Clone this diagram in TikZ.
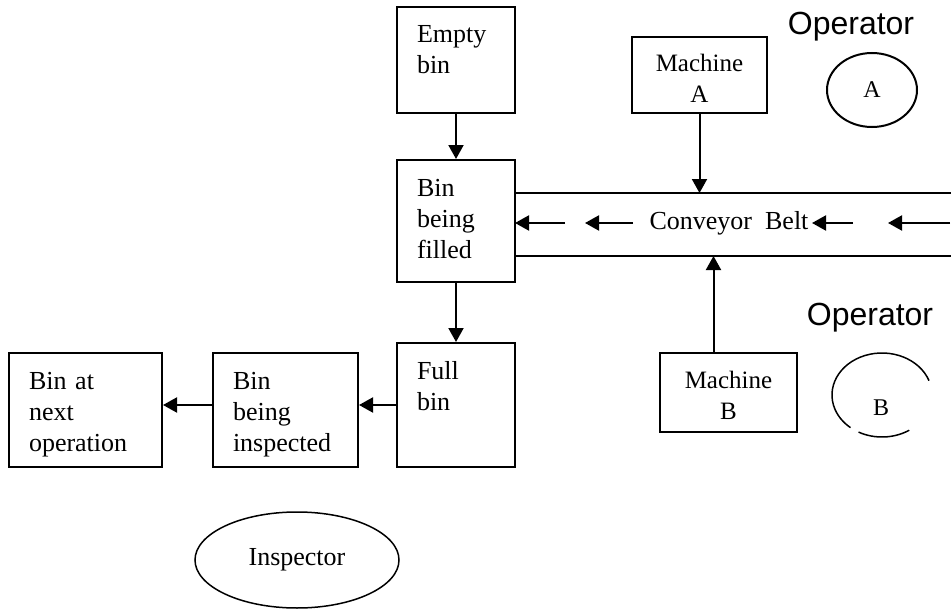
\documentclass[tikz,border=0pt]{standalone}
\usepackage{fontspec}
\setmainfont{Liberation Serif}
\newfontfamily\opfont{Liberation Sans}
\usetikzlibrary{arrows.meta,shapes.geometric}

\tikzset{
  >={Triangle[length=14pt,width=15pt]},
  binbox/.style={draw, rectangle, align=left, inner xsep=20pt, inner ysep=0pt,
    text height=36pt, font=\fontsize{26}{31}\selectfont},
  machbox/.style={draw, rectangle, align=center, inner xsep=10pt, inner ysep=0pt,
    text height=35pt, font=\fontsize{25}{31}\selectfont},
  oplabel/.style={font=\opfont\fontsize{32}{38}\selectfont},
  opcircle/.style={draw, ellipse, inner sep=0pt, font=\fontsize{24}{28}\selectfont},
}

\begin{document}
\begin{tikzpicture}[x=1pt, y=1pt, line width=2pt]
  \useasboundingbox (0,0) rectangle (951,-610);
  % bins
  \node[binbox, text width=78pt, text depth=70pt] (empty) at (456,-60) {Empty\\bin};
  \node[binbox, text width=78pt, text depth=86pt] (filled) at (456,-221) {Bin\\being\\filled};
  \node[binbox, text width=78pt, text depth=88pt] (full) at (456,-405) {Full\\bin};
  \node[binbox, text width=105pt, text depth=78pt] (inspected) at (285.5,-410) {Bin\\being\\inspected};
  \node[binbox, text width=113pt, text depth=78pt] (nextop) at (85.5,-410) {Bin at\\next\\operation};
  % machines
  \node[machbox, text width=115pt, text depth=41pt] (macha) at (699.5,-75) {Machine\\A};
  \node[machbox, text width=117pt, text depth=44pt] (machb) at (728.5,-392.5) {Machine\\B};
  % conveyor
  \coordinate (bt1) at (515,-193);
  \coordinate (bt2) at (951,-193);
  \coordinate (bb1) at (515,-256);
  \coordinate (bb2) at (951,-256);
  \draw (bt1) -- (bt2) (bb1) -- (bb2);
  \node[font=\fontsize{26}{31}\selectfont, inner sep=0pt] (belt) at (729,-223) {Conveyor\ \ Belt};
  \foreach \s/\e in {565/515, 633/585, 853/812, 950/888}
    \draw[->] (\s,-223) -- (\e,-223);
  % operators
  \node[oplabel] (opa) at (851,-27) {Operator};
  \node[opcircle, minimum width=90pt, minimum height=74pt] (opacirc) at (872,-90) {A};
  \node[oplabel] (opb) at (870,-318) {Operator};
  \coordinate (opbc) at (882,-395);
  \node[font=\fontsize{24}{28}\selectfont] (opbtext) at (881,-408) {B};
  \draw[line width=1.5pt] ([shift={(20:50pt and 42pt)}]opbc)
    arc[start angle=20, end angle=231, x radius=50pt, y radius=42pt];
  \draw[line width=1.5pt] ([shift={(242:50pt and 42pt)}]opbc)
    arc[start angle=242, end angle=303, x radius=50pt, y radius=42pt];
  \node[draw, ellipse, line width=1.5pt, minimum width=204pt, minimum height=96pt,
    font=\fontsize{26}{31}\selectfont] (insp) at (297,-560) {Inspector};
  % flow
  \draw
  (empty) edge[->] (filled)
  (filled) edge[->] (full)
  ;
  \draw[->] (full.west) -- (full.west -| inspected.east);
  \draw[->] (inspected.west |- full.west) -- (nextop.east |- full.west);
  \draw[->] (macha.south) -- (macha.south |- bt1);
  \draw[->] ([xshift=-15pt]machb.north) -- ([xshift=-15pt]machb.north |- bb1);
\end{tikzpicture}
\end{document}
